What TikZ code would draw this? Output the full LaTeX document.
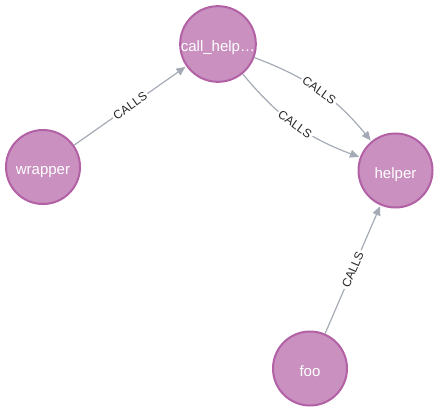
\documentclass[tikz,border=0pt]{standalone}
\usepackage{fontspec}
\setmainfont{Liberation Sans}
\usetikzlibrary{arrows.meta}
\definecolor{nodefill}{HTML}{C990C0}
\definecolor{nodeborder}{HTML}{B261A5}
\definecolor{edgecol}{HTML}{A5ABB6}
\begin{document}
\begin{tikzpicture}[x=1pt,y=1pt,
 gnode/.style={circle, fill=nodefill, draw=nodeborder, line width=2pt, minimum size=74pt, inner sep=0pt, text=white, text height=15.5pt, text depth=0pt, font=\fontsize{15}{15}\selectfont},
 rel/.style={draw=edgecol, line width=1.2pt, -{Triangle[length=9pt,width=8pt]}, shorten >=1pt},
 rlabel/.style={sloped, fill=white, inner sep=2pt, text=black!85, font=\fontsize{12}{12}\selectfont}]
\useasboundingbox (0,0) rectangle (439,-412);
\node[gnode] (call) at (218,-44) {call\_help…};
\node[gnode] (wrapper) at (43,-167) {wrapper};
\node[gnode] (helper) at (395.5,-170.5) {helper};
\node[gnode] (foo) at (310,-368.5) {foo};
\draw[rel] (wrapper) -- node[rlabel]{CALLS} (call);
\draw[rel] (call) to[bend left=15] node[rlabel]{CALLS} (helper);
\draw[rel] (call) to[bend right=15] node[rlabel]{CALLS} (helper);
\draw[rel] (foo) -- node[rlabel]{CALLS} (helper);
\end{tikzpicture}
\end{document}
